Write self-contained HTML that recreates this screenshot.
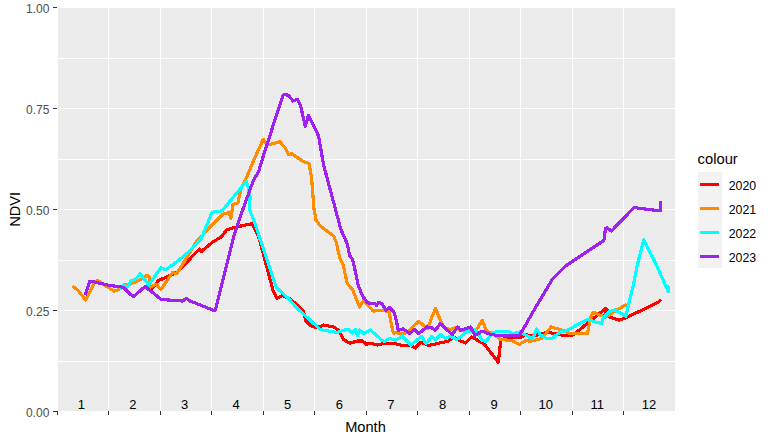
<!DOCTYPE html>
<html><head><meta charset="utf-8"><title>NDVI by Month</title>
<style>
html,body{margin:0;padding:0;background:#fff;}
svg{display:block;font-family:"Liberation Sans",sans-serif;}
.s{font-size:13px;}
.b{font-size:15.2px;}
.ln{fill:none;stroke-width:3.2;stroke-linejoin:round;stroke-linecap:butt;shape-rendering:crispEdges;}
</style></head><body>
<svg width="773" height="442" viewBox="0 0 773 442">
<rect width="773" height="442" fill="#fff"/>
<rect x="58" y="8" width="617" height="403" fill="#EBEBEB"/>
<g fill="#fff" shape-rendering="crispEdges"><rect x="108" y="8" width="1" height="403"/><rect x="160" y="8" width="1" height="403"/><rect x="211" y="8" width="1" height="403"/><rect x="263" y="8" width="1" height="403"/><rect x="314" y="8" width="1" height="403"/><rect x="366" y="8" width="1" height="403"/><rect x="417" y="8" width="1" height="403"/><rect x="469" y="8" width="1" height="403"/><rect x="520" y="8" width="1" height="403"/><rect x="572" y="8" width="1" height="403"/><rect x="623" y="8" width="1" height="403"/><rect x="58" y="58" width="617" height="1"/><rect x="58" y="108" width="617" height="1"/><rect x="58" y="159" width="617" height="1"/><rect x="58" y="209" width="617" height="1"/><rect x="58" y="260" width="617" height="1"/><rect x="58" y="310" width="617" height="1"/><rect x="58" y="361" width="617" height="1"/></g>
<g fill="#333" shape-rendering="crispEdges"><rect x="53" y="7" width="4" height="1"/><rect x="53" y="108" width="4" height="1"/><rect x="53" y="209" width="4" height="1"/><rect x="53" y="310" width="4" height="1"/><rect x="53" y="411" width="4" height="1"/><rect x="57" y="411" width="1" height="4"/><rect x="108" y="411" width="1" height="4"/><rect x="160" y="411" width="1" height="4"/><rect x="211" y="411" width="1" height="4"/><rect x="263" y="411" width="1" height="4"/><rect x="314" y="411" width="1" height="4"/><rect x="366" y="411" width="1" height="4"/><rect x="417" y="411" width="1" height="4"/><rect x="469" y="411" width="1" height="4"/><rect x="520" y="411" width="1" height="4"/><rect x="572" y="411" width="1" height="4"/><rect x="623" y="411" width="1" height="4"/></g>
<polyline class="ln" stroke="#FF0000" points="146.6,289.6 152.2,288.1 158.5,280.6 168.0,276.3 177.5,272.0 199.4,248.9 201.2,251.6 212.0,242.5 221.1,237.1 226.5,229.9 233.8,227.5 244.6,225.3 252.3,223.5 258.2,236.0 259.8,240.6 273.3,291.5 276.7,298.2 282.6,295.7 290.0,298.5 303.5,311.1 306.0,321.2 310.2,325.4 316.9,327.9 323.6,325.0 333.7,327.0 338.8,330.4 343.8,339.6 349.7,343.3 357.3,341.0 362.3,341.0 366.5,344.3 370.7,343.3 377.5,345.0 382.5,343.8 396.0,343.8 402.7,345.5 411.1,345.5 415.3,348.0 420.9,342.1 428.5,345.5 440.3,342.9 447.8,341.3 453.7,337.0 458.8,340.4 465.5,342.9 471.4,337.0 484.0,343.8 498.3,362.3 500.8,339.6 510.9,337.0 520.2,337.9 525.2,334.5 531.1,336.2 541.8,334.1 546.8,332.1 562.0,335.1 572.0,335.5 578.8,330.4 605.7,308.5 607.4,310.2 604.8,315.3 619.1,320.3 625.9,317.8 658.1,302.4 660.9,299.6"/>
<polyline class="ln" stroke="#FF8C00" points="72.6,286.2 77.7,290.0 85.6,300.1 94.5,282.8 97.3,280.3 103.7,284.5 114.2,291.2 119.7,289.0 123.0,285.3 130.0,284.1 139.5,280.1 147.4,275.2 149.3,277.0 149.8,287.3 156.1,284.1 160.9,289.6 172.8,272.2 176.7,273.8 187.6,256.1 197.6,239.8 222.9,214.1 229.3,212.7 231.0,218.1 232.9,204.5 238.0,202.8 240.9,188.6 246.8,176.9 254.3,159.0 263.3,139.2 266.1,143.0 269.5,144.7 275.4,143.0 279.6,141.6 285.5,148.1 288.5,154.8 291.3,153.6 302.3,160.9 309.0,163.7 311.5,176.9 314.0,208.8 316.0,220.0 320.2,225.9 333.6,236.0 336.2,241.9 339.5,257.0 343.4,265.4 347.1,283.1 352.7,290.0 359.5,307.0 363.6,300.2 373.1,311.0 382.6,310.4 389.3,312.0 390.7,321.2 393.4,333.1 396.8,332.7 402.2,334.1 405.6,333.1 409.7,330.0 418.5,321.3 427.7,328.6 431.9,316.9 435.6,308.5 440.3,320.2 444.5,327.8 450.4,329.5 457.1,327.0 460.5,330.3 467.2,329.5 475.6,331.2 482.3,320.2 486.5,331.2 494.1,334.5 500.8,339.6 510.9,340.4 519.3,344.6 526.0,340.4 530.3,341.3 541.8,338.5 551.0,327.0 562.0,330.1 570.4,333.8 587.2,333.8 591.4,315.3 593.1,312.2 600.6,315.3 605.7,317.0 620.8,307.7 626.7,304.3"/>
<polyline class="ln" stroke="#00FFFF" points="119.7,289.5 123.9,285.0 127.3,287.0 130.6,281.1 136.3,278.6 140.3,273.8 148.7,284.9 160.9,267.5 165.6,269.8 173.6,264.3 190.0,250.8 201.2,238.9 212.0,212.3 222.0,210.9 246.4,181.3 248.1,186.8 250.1,197.0 249.4,208.8 256.9,229.0 259.0,236.0 276.7,288.1 280.9,291.5 290.0,300.1 296.7,307.7 320.3,329.6 337.1,332.4 348.0,329.1 352.2,332.9 355.4,329.3 357.5,335.5 359.5,330.0 363.6,333.4 370.4,330.0 381.9,340.2 384.6,341.6 389.3,338.2 394.8,340.2 398.2,338.8 402.2,336.1 411.0,345.0 421.8,336.2 426.0,343.8 431.9,336.2 435.2,339.6 440.3,334.5 445.3,338.7 450.4,336.2 457.1,339.6 467.2,331.2 472.2,331.2 474.8,329.5 477.3,332.0 482.3,340.4 486.5,341.3 492.4,332.8 499.1,331.2 507.5,331.2 512.6,333.7 519.3,332.0 526.0,335.4 532.5,338.8 536.7,329.1 540.1,334.6 546.8,338.8 551.9,338.5 560.3,332.1 565.3,331.2 587.2,319.5 601.5,323.7 603.2,317.8 609.0,311.9 614.9,309.9 625.9,316.1 629.2,301.8 633.4,285.0 637.5,264.0 643.7,239.6 656.0,264.0 668.3,291.7 668.8,285.5"/>
<polyline class="ln" stroke="#A020F0" points="85.2,295.1 89.9,281.1 94.5,282.0 108.8,285.3 123.0,287.2 133.2,296.8 145.2,286.4 160.9,299.3 168.0,300.0 182.3,301.0 186.7,298.5 189.3,300.7 214.8,310.8 216.2,306.6 233.8,236.0 237.2,225.5 243.1,208.7 253.4,180.4 258.5,171.8 263.6,155.0 282.9,95.4 284.3,94.3 288.5,95.4 293.0,101.0 297.2,99.3 300.6,106.0 305.3,126.2 308.5,115.3 311.5,121.2 317.4,132.9 319.1,138.8 322.5,159.0 324.1,166.8 338.3,220.0 340.4,228.4 347.1,243.5 349.6,255.3 352.5,259.5 355.5,272.1 358.1,285.0 360.2,290.0 362.2,295.4 367.6,302.9 375.1,303.6 376.5,305.4 378.5,302.5 381.9,303.6 386.0,310.4 389.6,307.2 394.1,312.4 396.8,322.6 398.2,330.7 402.9,328.7 409.7,333.4 414.5,329.4 418.6,333.8 426.8,327.0 431.9,327.8 435.2,330.3 440.3,323.6 452.0,334.5 457.9,327.0 460.5,330.3 470.5,327.0 474.8,335.4 482.3,331.2 490.7,334.5 497.5,335.4 519.3,335.4 524.4,327.0 534.3,309.6 552.8,278.5 564.6,266.7 603.9,240.4 605.5,228.4 606.9,227.6 611.4,231.0 634.1,207.4 639.2,208.3 656.0,210.4 660.2,210.8 660.5,201.0"/>
<g class="s" fill="#000"><text x="81.3" y="409" text-anchor="middle">1</text><text x="132.9" y="409" text-anchor="middle">2</text><text x="184.5" y="409" text-anchor="middle">3</text><text x="236.1" y="409" text-anchor="middle">4</text><text x="287.7" y="409" text-anchor="middle">5</text><text x="339.3" y="409" text-anchor="middle">6</text><text x="390.9" y="409" text-anchor="middle">7</text><text x="442.5" y="409" text-anchor="middle">8</text><text x="494.1" y="409" text-anchor="middle">9</text><text x="545.7" y="409" text-anchor="middle">10</text><text x="597.3" y="409" text-anchor="middle">11</text><text x="648.9" y="409" text-anchor="middle">12</text></g>
<g class="s" fill="#4D4D4D"><text x="26" y="13" textLength="23.4" lengthAdjust="spacingAndGlyphs">1.00</text><text x="26" y="114" textLength="23.4" lengthAdjust="spacingAndGlyphs">0.75</text><text x="26" y="215" textLength="23.4" lengthAdjust="spacingAndGlyphs">0.50</text><text x="26" y="316" textLength="23.4" lengthAdjust="spacingAndGlyphs">0.25</text><text x="26" y="417" textLength="23.4" lengthAdjust="spacingAndGlyphs">0.00</text></g>
<text class="b" x="345.2" y="432" textLength="40.6" lengthAdjust="spacingAndGlyphs" fill="#000">Month</text>
<text class="b" transform="translate(19.5,226.8) rotate(-90)" textLength="35" lengthAdjust="spacingAndGlyphs" fill="#000">NDVI</text>
<text class="b" x="697.6" y="164" textLength="40.2" lengthAdjust="spacingAndGlyphs" fill="#000">colour</text>
<rect x="698" y="172" width="24" height="96" fill="#F2F2F2"/>
<g class="s"><line x1="700" x2="719" y1="184.5" y2="184.5" stroke="#FF0000" stroke-width="3" shape-rendering="crispEdges"/><text x="728.7" y="190" fill="#000" textLength="27.5" lengthAdjust="spacingAndGlyphs">2020</text><line x1="700" x2="719" y1="208.5" y2="208.5" stroke="#FF8C00" stroke-width="3" shape-rendering="crispEdges"/><text x="728.7" y="214" fill="#000" textLength="27.5" lengthAdjust="spacingAndGlyphs">2021</text><line x1="700" x2="719" y1="232.5" y2="232.5" stroke="#00FFFF" stroke-width="3" shape-rendering="crispEdges"/><text x="728.7" y="238" fill="#000" textLength="27.5" lengthAdjust="spacingAndGlyphs">2022</text><line x1="700" x2="719" y1="256.5" y2="256.5" stroke="#A020F0" stroke-width="3" shape-rendering="crispEdges"/><text x="728.7" y="262" fill="#000" textLength="27.5" lengthAdjust="spacingAndGlyphs">2023</text></g>
</svg>
</body></html>
